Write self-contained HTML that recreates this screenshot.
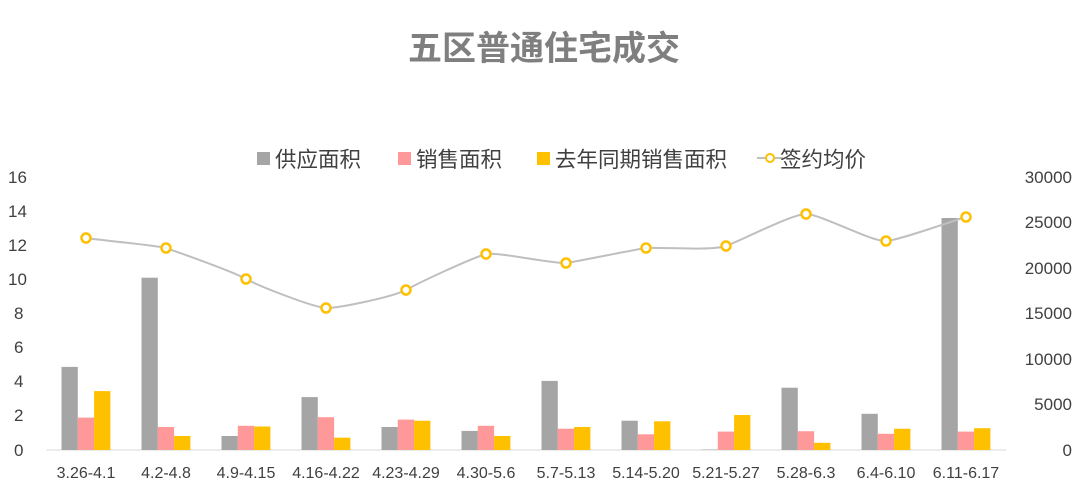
<!DOCTYPE html>
<html><head><meta charset="utf-8"><style>
body{margin:0;background:#fff;}
svg{display:block;font-family:"Liberation Sans","Noto Sans CJK SC",sans-serif;}
</style></head><body>
<svg width="1080" height="491" viewBox="0 0 1080 491" xmlns="http://www.w3.org/2000/svg">
<text x="544" y="60" text-anchor="middle" font-size="34" font-weight="bold" fill="#7f7f7f">五区普通住宅成交</text>
<g font-size="21.5" fill="#404040">
<rect x="257" y="152" width="13" height="13" fill="#a5a5a5"/><text x="275" y="167">供应面积</text>
<rect x="398" y="152" width="13" height="13" fill="#ff9999"/><text x="416" y="167">销售面积</text>
<rect x="537" y="152" width="13" height="13" fill="#ffc000"/><text x="555" y="167">去年同期销售面积</text>
<line x1="757" y1="158" x2="783" y2="158" stroke="#bfbfbf" stroke-width="2"/><circle cx="770" cy="158" r="4" fill="#fff" stroke="#ffc000" stroke-width="2"/><text x="780" y="167">签约均价</text>
</g>
<g font-size="17" fill="#404040">
<text x="8" y="183">16</text><text x="8" y="217">14</text><text x="8" y="251">12</text><text x="8" y="285">10</text>
<text x="14" y="319">8</text><text x="14" y="353">6</text><text x="14" y="387">4</text><text x="14" y="421">2</text><text x="14" y="456">0</text>
<g text-anchor="end"><text x="1072" y="183">30000</text><text x="1072" y="228">25000</text><text x="1072" y="274">20000</text><text x="1072" y="319">15000</text><text x="1072" y="365">10000</text><text x="1072" y="410">5000</text><text x="1072" y="456">0</text></g>
</g>
<line x1="46" y1="450" x2="1006" y2="450" stroke="#d9d9d9" stroke-width="1"/>
<g fill="#a5a5a5">
<rect x="61.5" y="366.9" width="16.3" height="83.1"/><rect x="141.5" y="277.7" width="16.3" height="172.3"/><rect x="221.5" y="436" width="16.3" height="14"/><rect x="301.5" y="397.1" width="16.3" height="52.9"/><rect x="381.5" y="427" width="16.3" height="23"/><rect x="461.5" y="430.9" width="16.3" height="19.1"/><rect x="541.5" y="380.9" width="16.3" height="69.1"/><rect x="621.5" y="420.7" width="16.3" height="29.3"/><rect x="701.5" y="449.5" width="16.3" height="0.5"/><rect x="781.5" y="387.7" width="16.3" height="62.3"/><rect x="861.5" y="413.8" width="16.3" height="36.2"/><rect x="941.5" y="218" width="16.3" height="232"/>
</g>
<g fill="#ff9999">
<rect x="77.8" y="417.6" width="16.3" height="32.4"/><rect x="157.8" y="427" width="16.3" height="23"/><rect x="237.8" y="425.8" width="16.3" height="24.2"/><rect x="317.8" y="417.2" width="16.3" height="32.8"/><rect x="397.8" y="419.6" width="16.3" height="30.4"/><rect x="477.8" y="425.8" width="16.3" height="24.2"/><rect x="557.8" y="428.7" width="16.3" height="21.3"/><rect x="637.8" y="434.3" width="16.3" height="15.7"/><rect x="717.8" y="431.6" width="16.3" height="18.4"/><rect x="797.8" y="431.2" width="16.3" height="18.8"/><rect x="877.8" y="433.8" width="16.3" height="16.2"/><rect x="957.8" y="431.6" width="16.3" height="18.4"/>
</g>
<g fill="#ffc000">
<rect x="94.1" y="391.1" width="16.3" height="58.9"/><rect x="174.1" y="436" width="16.3" height="14"/><rect x="254.1" y="426.5" width="16.3" height="23.5"/><rect x="334.1" y="437.7" width="16.3" height="12.3"/><rect x="414.1" y="420.7" width="16.3" height="29.3"/><rect x="494.1" y="436" width="16.3" height="14"/><rect x="574.1" y="427" width="16.3" height="23"/><rect x="654.1" y="421.3" width="16.3" height="28.7"/><rect x="734.1" y="415" width="16.3" height="35"/><rect x="814.1" y="442.8" width="16.3" height="7.2"/><rect x="894.1" y="428.7" width="16.3" height="21.3"/><rect x="974.1" y="428.2" width="16.3" height="21.8"/>
</g>
<path d="M86,238 C99,240 152,245 166,248 C180,253 232,271 246,279 C259,286 312,307 326,308 C340,308 392,297 406,290 C420,282 472,258 486,254 C500,252 552,264 566,263 C580,261 632,250 646,248 C660,247 712,251 726,246 C740,241 792,214 806,214 C820,214 872,242 886,241 C900,240 952,221 966,217" fill="none" stroke="#bfbfbf" stroke-width="2"/>
<g fill="#fff" stroke="#ffc000" stroke-width="2.5">
<circle cx="86" cy="238" r="4.5"/><circle cx="166" cy="248" r="4.5"/><circle cx="246" cy="279" r="4.5"/><circle cx="326" cy="308" r="4.5"/><circle cx="406" cy="290" r="4.5"/><circle cx="486" cy="254" r="4.5"/><circle cx="566" cy="263" r="4.5"/><circle cx="646" cy="248" r="4.5"/><circle cx="726" cy="246" r="4.5"/><circle cx="806" cy="214" r="4.5"/><circle cx="886" cy="241" r="4.5"/><circle cx="966" cy="217" r="4.5"/>
</g>
<g font-size="16" fill="#404040" text-anchor="middle">
<text x="86" y="478">3.26-4.1</text><text x="166" y="478">4.2-4.8</text><text x="246" y="478">4.9-4.15</text><text x="326" y="478">4.16-4.22</text><text x="406" y="478">4.23-4.29</text><text x="486" y="478">4.30-5.6</text><text x="566" y="478">5.7-5.13</text><text x="646" y="478">5.14-5.20</text><text x="726" y="478">5.21-5.27</text><text x="806" y="478">5.28-6.3</text><text x="886" y="478">6.4-6.10</text><text x="966" y="478">6.11-6.17</text>
</g>
</svg>
</body></html>
